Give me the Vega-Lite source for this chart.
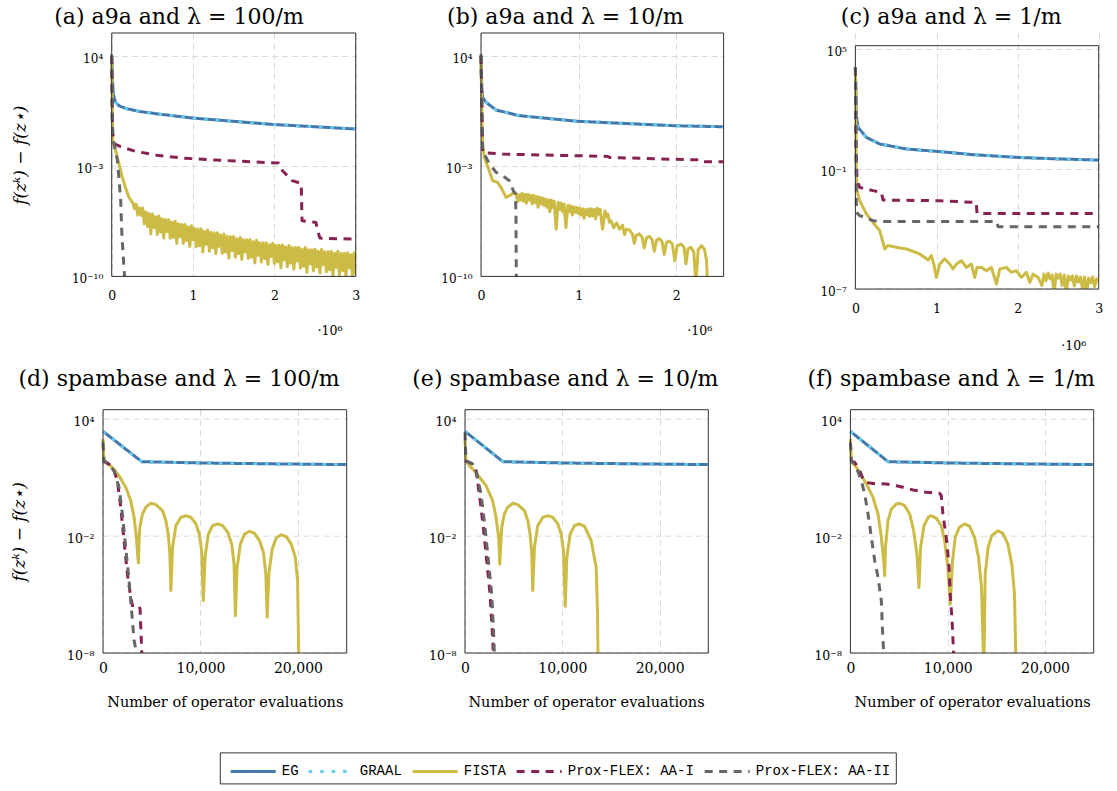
{
"$schema": "https://vega.github.io/schema/vega-lite/v6.json",
"background": "white",
"padding": {"left": 9, "top": 5, "right": 5, "bottom": 2},
"columns": 3,
"bounds": "flush",
"align": "each",
"spacing": {"row": 120.7, "column": 0},
"datasets": {
"a": [
{"s":"EG","x":0,"y":1e4},{"s":"EG","x":8000,"y":400},{"s":"EG","x":20000,"y":40},{"s":"EG","x":30000,"y":22.4},{"s":"EG","x":50000,"y":11.2},{"s":"EG","x":90000,"y":6.9},{"s":"EG","x":170000,"y":4.7},{"s":"EG","x":340000,"y":3.0},{"s":"EG","x":580000,"y":2.04},{"s":"EG","x":990000,"y":1.15},{"s":"EG","x":1480000,"y":0.72},{"s":"EG","x":2000000,"y":0.44},{"s":"EG","x":2500000,"y":0.32},{"s":"EG","x":3000000,"y":0.23},
{"s":"GRAAL","x":0,"y":1e4},{"s":"GRAAL","x":8000,"y":400},{"s":"GRAAL","x":20000,"y":40},{"s":"GRAAL","x":30000,"y":22.4},{"s":"GRAAL","x":50000,"y":11.2},{"s":"GRAAL","x":90000,"y":6.9},{"s":"GRAAL","x":170000,"y":4.7},{"s":"GRAAL","x":340000,"y":3.0},{"s":"GRAAL","x":580000,"y":2.04},{"s":"GRAAL","x":990000,"y":1.15},{"s":"GRAAL","x":1480000,"y":0.72},{"s":"GRAAL","x":2000000,"y":0.44},{"s":"GRAAL","x":2500000,"y":0.32},{"s":"GRAAL","x":3000000,"y":0.23},
{"s":"FISTA","x":0,"y":1e4},{"s":"FISTA","x":6000,"y":10},{"s":"FISTA","x":12000,"y":4.2e-2},{"s":"FISTA","x":49000,"y":9.5e-3},{"s":"FISTA","x":90000,"y":1.4e-3},{"s":"FISTA","x":131000,"y":1.95e-4},{"s":"FISTA","x":172000,"y":4e-5},{"s":"FISTA","x":213000,"y":1.05e-5},{"s":"FISTA","x":254000,"y":5e-6},
{"s":"FISTA","x":260000,"y":4.8e-6},{"s":"FISTA","x":280000,"y":2.0e-6},{"s":"FISTA","x":300000,"y":3.9e-6},{"s":"FISTA","x":320000,"y":7.8e-7},{"s":"FISTA","x":340000,"y":2.3e-6},{"s":"FISTA","x":360000,"y":7.6e-7},{"s":"FISTA","x":380000,"y":2.2e-6},{"s":"FISTA","x":400000,"y":2.2e-7},{"s":"FISTA","x":420000,"y":1.26e-6},{"s":"FISTA","x":440000,"y":1.48e-7},{"s":"FISTA","x":460000,"y":1.0e-6},{"s":"FISTA","x":480000,"y":5.0e-8},{"s":"FISTA","x":500000,"y":9.3e-7},{"s":"FISTA","x":520000,"y":1.26e-7},{"s":"FISTA","x":540000,"y":6.2e-7},{"s":"FISTA","x":560000,"y":4.6e-8},{"s":"FISTA","x":580000,"y":6.9e-7},{"s":"FISTA","x":600000,"y":6.6e-8},{"s":"FISTA","x":620000,"y":4.6e-7},{"s":"FISTA","x":640000,"y":2.75e-8},{"s":"FISTA","x":660000,"y":4.1e-7},{"s":"FISTA","x":680000,"y":7.1e-8},{"s":"FISTA","x":700000,"y":4.0e-7},{"s":"FISTA","x":720000,"y":2.6e-8},{"s":"FISTA","x":740000,"y":2.75e-7},{"s":"FISTA","x":760000,"y":3.0e-8},{"s":"FISTA","x":780000,"y":3.2e-7},{"s":"FISTA","x":800000,"y":1.26e-8},{"s":"FISTA","x":820000,"y":2.2e-7},{"s":"FISTA","x":840000,"y":3.4e-8},{"s":"FISTA","x":860000,"y":2.0e-7},{"s":"FISTA","x":880000,"y":1.23e-8},{"s":"FISTA","x":900000,"y":2.0e-7},{"s":"FISTA","x":920000,"y":1.86e-8},{"s":"FISTA","x":940000,"y":1.38e-7},{"s":"FISTA","x":960000,"y":7.8e-9},{"s":"FISTA","x":980000,"y":1.62e-7},{"s":"FISTA","x":1000000,"y":2.1e-8},{"s":"FISTA","x":1020000,"y":1.1e-7},{"s":"FISTA","x":1040000,"y":7.6e-9},{"s":"FISTA","x":1060000,"y":1.02e-7},{"s":"FISTA","x":1080000,"y":8.9e-9},{"s":"FISTA","x":1100000,"y":1.02e-7},{"s":"FISTA","x":1120000,"y":3.6e-9},{"s":"FISTA","x":1140000,"y":7.2e-8},{"s":"FISTA","x":1160000,"y":1.1e-8},{"s":"FISTA","x":1180000,"y":8.9e-8},{"s":"FISTA","x":1200000,"y":4.0e-9},{"s":"FISTA","x":1220000,"y":6.2e-8},{"s":"FISTA","x":1240000,"y":6.5e-9},{"s":"FISTA","x":1260000,"y":5.9e-8},{"s":"FISTA","x":1280000,"y":2.75e-9},{"s":"FISTA","x":1300000,"y":5.9e-8},{"s":"FISTA","x":1320000,"y":8.1e-9},{"s":"FISTA","x":1340000,"y":4.2e-8},{"s":"FISTA","x":1360000,"y":2.95e-9},{"s":"FISTA","x":1380000,"y":5.0e-8},{"s":"FISTA","x":1400000,"y":3.5e-9},{"s":"FISTA","x":1420000,"y":3.5e-8},{"s":"FISTA","x":1440000,"y":1.48e-9},{"s":"FISTA","x":1460000,"y":3.3e-8},{"s":"FISTA","x":1480000,"y":4.5e-9},{"s":"FISTA","x":1500000,"y":3.4e-8},{"s":"FISTA","x":1520000,"y":1.66e-9},{"s":"FISTA","x":1540000,"y":2.45e-8},{"s":"FISTA","x":1560000,"y":2.75e-9},{"s":"FISTA","x":1580000,"y":3.0e-8},{"s":"FISTA","x":1600000,"y":1.2e-9},{"s":"FISTA","x":1620000,"y":2.1e-8},{"s":"FISTA","x":1640000,"y":3.6e-9},{"s":"FISTA","x":1660000,"y":2.1e-8},{"s":"FISTA","x":1680000,"y":1.35e-9},{"s":"FISTA","x":1700000,"y":2.2e-8},{"s":"FISTA","x":1720000,"y":1.66e-9},{"s":"FISTA","x":1740000,"y":1.58e-8},{"s":"FISTA","x":1760000,"y":7.1e-10},{"s":"FISTA","x":1780000,"y":1.95e-8},{"s":"FISTA","x":1800000,"y":2.2e-9},{"s":"FISTA","x":1820000,"y":1.38e-8},{"s":"FISTA","x":1840000,"y":8.1e-10},{"s":"FISTA","x":1860000,"y":1.35e-8},{"s":"FISTA","x":1880000,"y":1.35e-9},{"s":"FISTA","x":1900000,"y":1.38e-8},{"s":"FISTA","x":1920000,"y":5.9e-10},{"s":"FISTA","x":1940000,"y":1.02e-8},{"s":"FISTA","x":1960000,"y":1.82e-9},{"s":"FISTA","x":1980000,"y":1.29e-8},{"s":"FISTA","x":2000000,"y":6.6e-10},{"s":"FISTA","x":2020000,"y":9.3e-9},{"s":"FISTA","x":2040000,"y":8.3e-10},{"s":"FISTA","x":2060000,"y":9.5e-9},{"s":"FISTA","x":2080000,"y":3.5e-10},{"s":"FISTA","x":2100000,"y":1.0e-8},{"s":"FISTA","x":2120000,"y":1.12e-9},{"s":"FISTA","x":2140000,"y":7.4e-9},{"s":"FISTA","x":2160000,"y":4.1e-10},{"s":"FISTA","x":2180000,"y":9.3e-9},{"s":"FISTA","x":2200000,"y":6.9e-10},{"s":"FISTA","x":2220000,"y":6.8e-9},{"s":"FISTA","x":2240000,"y":2.9e-10},{"s":"FISTA","x":2260000,"y":6.8e-9},{"s":"FISTA","x":2280000,"y":9.5e-10},{"s":"FISTA","x":2300000,"y":7.1e-9},{"s":"FISTA","x":2320000,"y":3.4e-10},{"s":"FISTA","x":2340000,"y":5.4e-9},{"s":"FISTA","x":2360000,"y":4.4e-10},{"s":"FISTA","x":2380000,"y":6.8e-9},{"s":"FISTA","x":2400000,"y":1.82e-10},{"s":"FISTA","x":2420000,"y":5.0e-9},{"s":"FISTA","x":2440000,"y":6.2e-10},{"s":"FISTA","x":2460000,"y":5.0e-9},{"s":"FISTA","x":2480000,"y":2.2e-10},{"s":"FISTA","x":2500000,"y":5.4e-9},{"s":"FISTA","x":2520000,"y":3.9e-10},{"s":"FISTA","x":2540000,"y":4.0e-9},{"s":"FISTA","x":2560000,"y":1.62e-10},{"s":"FISTA","x":2580000,"y":5.1e-9},{"s":"FISTA","x":2600000,"y":5.6e-10},{"s":"FISTA","x":2620000,"y":3.7e-9},{"s":"FISTA","x":2640000,"y":1.95e-10},{"s":"FISTA","x":2660000,"y":3.8e-9},{"s":"FISTA","x":2680000,"y":2.6e-10},{"s":"FISTA","x":2700000,"y":4.0e-9},{"s":"FISTA","x":2720000,"y":1.05e-10},{"s":"FISTA","x":2740000,"y":3.0e-9},{"s":"FISTA","x":2760000,"y":3.7e-10},{"s":"FISTA","x":2780000,"y":3.9e-9},{"s":"FISTA","x":2800000,"y":1.26e-10},{"s":"FISTA","x":2820000,"y":2.9e-9},{"s":"FISTA","x":2840000,"y":2.3e-10},{"s":"FISTA","x":2860000,"y":2.95e-9},{"s":"FISTA","x":2880000,"y":9.3e-11},{"s":"FISTA","x":2900000,"y":3.2e-9},{"s":"FISTA","x":2920000,"y":3.5e-10},{"s":"FISTA","x":2940000,"y":2.4e-9},{"s":"FISTA","x":2960000,"y":1.12e-10},{"s":"FISTA","x":2980000,"y":3.1e-9},{"s":"FISTA","x":3000000,"y":1.32e-10},
{"s":"AA-I","x":0,"y":1e4},{"s":"AA-I","x":10000,"y":0.32},{"s":"AA-I","x":16400,"y":8.7e-2},{"s":"AA-I","x":40000,"y":2.5e-2},{"s":"AA-I","x":110700,"y":1.74e-2},{"s":"AA-I","x":295000,"y":8.7e-3},{"s":"AA-I","x":582000,"y":4.7e-3},{"s":"AA-I","x":869000,"y":3.3e-3},{"s":"AA-I","x":1280000,"y":2.45e-3},{"s":"AA-I","x":1730000,"y":1.9e-3},{"s":"AA-I","x":2050000,"y":1.58e-3},{"s":"AA-I","x":2100000,"y":5.1e-4},{"s":"AA-I","x":2220000,"y":1.2e-4},{"s":"AA-I","x":2330000,"y":8.1e-5},{"s":"AA-I","x":2340000,"y":3.4e-7},{"s":"AA-I","x":2510000,"y":2.7e-7},{"s":"AA-I","x":2545000,"y":5e-8},{"s":"AA-I","x":2560000,"y":2.7e-8},{"s":"AA-I","x":3000000,"y":2.3e-8},
{"s":"AA-II","x":0,"y":1.26e4},{"s":"AA-II","x":6000,"y":1},{"s":"AA-II","x":12000,"y":6.3e-2},{"s":"AA-II","x":30000,"y":2.5e-2},{"s":"AA-II","x":50000,"y":7.9e-3},{"s":"AA-II","x":70000,"y":2.2e-3},{"s":"AA-II","x":90000,"y":1.6e-4},{"s":"AA-II","x":111000,"y":6.3e-6},{"s":"AA-II","x":125000,"y":5e-8},{"s":"AA-II","x":150000,"y":4e-10},{"s":"AA-II","x":165000,"y":3.2e-11}
],
"b": [
{"s":"EG","x":0,"y":1e4},{"s":"EG","x":8000,"y":100},{"s":"EG","x":17000,"y":23.4},{"s":"EG","x":51000,"y":11.5},{"s":"EG","x":154000,"y":3.7},{"s":"EG","x":392000,"y":1.62},{"s":"EG","x":990000,"y":0.71},{"s":"EG","x":1590000,"y":0.48},{"s":"EG","x":1990000,"y":0.37},{"s":"EG","x":2485000,"y":0.32},
{"s":"GRAAL","x":0,"y":1e4},{"s":"GRAAL","x":8000,"y":100},{"s":"GRAAL","x":17000,"y":23.4},{"s":"GRAAL","x":51000,"y":11.5},{"s":"GRAAL","x":154000,"y":3.7},{"s":"GRAAL","x":392000,"y":1.62},{"s":"GRAAL","x":990000,"y":0.71},{"s":"GRAAL","x":1590000,"y":0.48},{"s":"GRAAL","x":1990000,"y":0.37},{"s":"GRAAL","x":2485000,"y":0.32},
{"s":"FISTA","x":0,"y":1e4},{"s":"FISTA","x":10000,"y":1},{"s":"FISTA","x":17000,"y":2.6e-2},{"s":"FISTA","x":34000,"y":3.6e-3},{"s":"FISTA","x":85000,"y":5.1e-4},{"s":"FISTA","x":119000,"y":1.2e-4},{"s":"FISTA","x":171000,"y":9.3e-5},{"s":"FISTA","x":205000,"y":4.5e-5},{"s":"FISTA","x":256000,"y":1.05e-5},{"s":"FISTA","x":290000,"y":1.32e-5},{"s":"FISTA","x":341000,"y":2.1e-5},
{"s":"FISTA","x":360000,"y":2.0e-5},{"s":"FISTA","x":375000,"y":5.5e-6},{"s":"FISTA","x":390000,"y":1.5e-5},{"s":"FISTA","x":405000,"y":7.1e-6},{"s":"FISTA","x":420000,"y":1.9e-5},{"s":"FISTA","x":435000,"y":6.0e-6},{"s":"FISTA","x":450000,"y":1.6e-5},{"s":"FISTA","x":465000,"y":4.5e-6},{"s":"FISTA","x":480000,"y":1.66e-5},{"s":"FISTA","x":495000,"y":7.0e-6},{"s":"FISTA","x":510000,"y":1.4e-5},{"s":"FISTA","x":525000,"y":4.0e-6},{"s":"FISTA","x":540000,"y":1.41e-5},{"s":"FISTA","x":555000,"y":5.0e-6},{"s":"FISTA","x":570000,"y":1.2e-5},{"s":"FISTA","x":585000,"y":2.5e-6},{"s":"FISTA","x":600000,"y":1.05e-5},{"s":"FISTA","x":615000,"y":4.0e-6},{"s":"FISTA","x":630000,"y":9.5e-6},{"s":"FISTA","x":645000,"y":3.2e-6},{"s":"FISTA","x":660000,"y":8.3e-6},{"s":"FISTA","x":675000,"y":2.5e-6},{"s":"FISTA","x":690000,"y":7.5e-6},{"s":"FISTA","x":705000,"y":1.26e-6},{"s":"FISTA","x":720000,"y":7.1e-6},{"s":"FISTA","x":735000,"y":2.5e-6},{"s":"FISTA","x":750000,"y":6.0e-6},{"s":"FISTA","x":770000,"y":1e-7},{"s":"FISTA","x":790000,"y":5e-6},{"s":"FISTA","x":805000,"y":1.8e-6},{"s":"FISTA","x":820000,"y":4.5e-6},{"s":"FISTA","x":835000,"y":1.26e-6},{"s":"FISTA","x":850000,"y":4e-6},{"s":"FISTA","x":870000,"y":1.26e-7},{"s":"FISTA","x":890000,"y":3.3e-6},{"s":"FISTA","x":905000,"y":1.3e-6},{"s":"FISTA","x":920000,"y":3.0e-6},{"s":"FISTA","x":935000,"y":7.9e-7},{"s":"FISTA","x":950000,"y":2.6e-6},{"s":"FISTA","x":965000,"y":1.2e-6},{"s":"FISTA","x":980000,"y":2.4e-6},{"s":"FISTA","x":995000,"y":1e-6},{"s":"FISTA","x":1010000,"y":2.2e-6},{"s":"FISTA","x":1025000,"y":8e-7},{"s":"FISTA","x":1040000,"y":2.0e-6},{"s":"FISTA","x":1055000,"y":5e-7},{"s":"FISTA","x":1070000,"y":1.78e-6},{"s":"FISTA","x":1085000,"y":8e-7},{"s":"FISTA","x":1100000,"y":1.9e-6},{"s":"FISTA","x":1115000,"y":6.3e-7},{"s":"FISTA","x":1130000,"y":2e-6},{"s":"FISTA","x":1145000,"y":7e-7},{"s":"FISTA","x":1160000,"y":1.8e-6},{"s":"FISTA","x":1175000,"y":4.5e-7},{"s":"FISTA","x":1190000,"y":2.1e-6},{"s":"FISTA","x":1205000,"y":9e-7},{"s":"FISTA","x":1220000,"y":1.8e-6},{"s":"FISTA","x":1245000,"y":1e-7},{"s":"FISTA","x":1270000,"y":1.41e-6},{"s":"FISTA","x":1285000,"y":6e-7},{"s":"FISTA","x":1300000,"y":9e-7},{"s":"FISTA","x":1315000,"y":2.8e-7},{"s":"FISTA","x":1330000,"y":3.5e-7},{"s":"FISTA","x":1360000,"y":1.26e-7},{"s":"FISTA","x":1390000,"y":2.5e-7},{"s":"FISTA","x":1420000,"y":1e-7},{"s":"FISTA","x":1450000,"y":1.78e-7},
{"s":"FISTA","x":1470000,"y":4.5e-8},{"s":"FISTA","x":1490000,"y":1e-7},{"s":"FISTA","x":1519000,"y":8.9e-8},{"s":"FISTA","x":1550000,"y":5e-8},{"s":"FISTA","x":1570000,"y":1.26e-8},{"s":"FISTA","x":1590000,"y":4e-8},{"s":"FISTA","x":1621000,"y":5e-8},{"s":"FISTA","x":1650000,"y":3.2e-8},{"s":"FISTA","x":1672000,"y":6.3e-9},{"s":"FISTA","x":1695000,"y":2.8e-8},{"s":"FISTA","x":1724000,"y":3.5e-8},{"s":"FISTA","x":1752000,"y":2.2e-8},{"s":"FISTA","x":1775000,"y":4e-9},{"s":"FISTA","x":1798000,"y":2e-8},{"s":"FISTA","x":1826000,"y":2.5e-8},{"s":"FISTA","x":1855000,"y":1.58e-8},{"s":"FISTA","x":1877000,"y":2.5e-9},{"s":"FISTA","x":1900000,"y":1.41e-8},{"s":"FISTA","x":1928000,"y":1.78e-8},{"s":"FISTA","x":1960000,"y":1.12e-8},{"s":"FISTA","x":1985000,"y":1e-9},{"s":"FISTA","x":2010000,"y":8.9e-9},{"s":"FISTA","x":2048000,"y":1.12e-8},{"s":"FISTA","x":2080000,"y":7.1e-9},{"s":"FISTA","x":2099000,"y":6.3e-10},{"s":"FISTA","x":2120000,"y":5.6e-9},{"s":"FISTA","x":2150000,"y":7.1e-9},{"s":"FISTA","x":2180000,"y":3.5e-9},{"s":"FISTA","x":2201000,"y":3.2e-11},{"s":"FISTA","x":2225000,"y":5e-9},{"s":"FISTA","x":2260000,"y":8.9e-9},{"s":"FISTA","x":2290000,"y":5e-9},{"s":"FISTA","x":2310000,"y":1e-9},{"s":"FISTA","x":2321000,"y":3.2e-11},
{"s":"AA-I","x":0,"y":1e4},{"s":"AA-I","x":12000,"y":1},{"s":"AA-I","x":17000,"y":7.6e-3},{"s":"AA-I","x":35000,"y":7.1e-3},{"s":"AA-I","x":222000,"y":5.9e-3},{"s":"AA-I","x":904000,"y":4.7e-3},{"s":"AA-I","x":1300000,"y":4.2e-3},{"s":"AA-I","x":1314000,"y":3.6e-3},{"s":"AA-I","x":1928000,"y":2.8e-3},{"s":"AA-I","x":2260000,"y":2.5e-3},{"s":"AA-I","x":2280000,"y":1.9e-3},{"s":"AA-I","x":2485000,"y":1.9e-3},
{"s":"AA-II","x":0,"y":1.26e4},{"s":"AA-II","x":10000,"y":1},{"s":"AA-II","x":17000,"y":1e-2},{"s":"AA-II","x":35000,"y":5.9e-3},{"s":"AA-II","x":85000,"y":1.4e-3},{"s":"AA-II","x":154000,"y":4.1e-4},{"s":"AA-II","x":222000,"y":2.5e-4},{"s":"AA-II","x":290000,"y":1.2e-4},{"s":"AA-II","x":331000,"y":2.75e-5},{"s":"AA-II","x":352000,"y":1.7e-5},{"s":"AA-II","x":358000,"y":1e-6},{"s":"AA-II","x":360000,"y":1e-8},{"s":"AA-II","x":362000,"y":3.2e-11}
],
"c": [
{"s":"EG","x":0,"y":1.2e4},{"s":"EG","x":8000,"y":316},{"s":"EG","x":12000,"y":47},{"s":"EG","x":33000,"y":12},{"s":"EG","x":136000,"y":3.8},{"s":"EG","x":300000,"y":1.78},{"s":"EG","x":629000,"y":1.0},{"s":"EG","x":1040000,"y":0.74},{"s":"EG","x":1450000,"y":0.52},{"s":"EG","x":2000000,"y":0.38},{"s":"EG","x":2480000,"y":0.32},{"s":"EG","x":3000000,"y":0.28},
{"s":"GRAAL","x":0,"y":1.2e4},{"s":"GRAAL","x":8000,"y":316},{"s":"GRAAL","x":12000,"y":47},{"s":"GRAAL","x":33000,"y":12},{"s":"GRAAL","x":136000,"y":3.8},{"s":"GRAAL","x":300000,"y":1.78},{"s":"GRAAL","x":629000,"y":1.0},{"s":"GRAAL","x":1040000,"y":0.74},{"s":"GRAAL","x":1450000,"y":0.52},{"s":"GRAAL","x":2000000,"y":0.38},{"s":"GRAAL","x":2480000,"y":0.32},{"s":"GRAAL","x":3000000,"y":0.28},
{"s":"FISTA","x":0,"y":1.2e4},{"s":"FISTA","x":10000,"y":0.1},{"s":"FISTA","x":20500,"y":8.3e-3},{"s":"FISTA","x":53000,"y":2.6e-3},{"s":"FISTA","x":136000,"y":5.6e-4},{"s":"FISTA","x":218000,"y":2.1e-4},{"s":"FISTA","x":300000,"y":8.3e-5},{"s":"FISTA","x":362000,"y":1e-5},{"s":"FISTA","x":403000,"y":1.48e-5},{"s":"FISTA","x":464000,"y":1.32e-5},{"s":"FISTA","x":547000,"y":1.12e-5},{"s":"FISTA","x":629000,"y":1e-5},{"s":"FISTA","x":711000,"y":7.6e-6},{"s":"FISTA","x":793000,"y":5.6e-6},{"s":"FISTA","x":855000,"y":3.8e-6},{"s":"FISTA","x":896000,"y":2.8e-6},{"s":"FISTA","x":937000,"y":4.7e-6},{"s":"FISTA","x":966000,"y":1.78e-6},{"s":"FISTA","x":999000,"y":3.8e-7},
{"s":"FISTA","x":1040000,"y":1.78e-6},{"s":"FISTA","x":1101000,"y":3.2e-6},{"s":"FISTA","x":1163000,"y":1.78e-6},{"s":"FISTA","x":1204000,"y":1e-6},{"s":"FISTA","x":1245000,"y":1.78e-6},{"s":"FISTA","x":1307000,"y":2.6e-6},{"s":"FISTA","x":1369000,"y":1.2e-6},{"s":"FISTA","x":1430000,"y":1.78e-6},{"s":"FISTA","x":1471000,"y":3.8e-7},{"s":"FISTA","x":1500000,"y":1.2e-6},{"s":"FISTA","x":1554000,"y":1.2e-6},{"s":"FISTA","x":1615000,"y":8.3e-7},{"s":"FISTA","x":1677000,"y":1.2e-6},{"s":"FISTA","x":1739000,"y":1.78e-7},{"s":"FISTA","x":1780000,"y":1e-6},{"s":"FISTA","x":1862000,"y":1.2e-6},{"s":"FISTA","x":1923000,"y":6.8e-7},{"s":"FISTA","x":1985000,"y":8.3e-7},{"s":"FISTA","x":2047000,"y":3.8e-7},{"s":"FISTA","x":2108000,"y":6.8e-7},{"s":"FISTA","x":2150000,"y":2.1e-7},{"s":"FISTA","x":2191000,"y":5.6e-7},{"s":"FISTA","x":2252000,"y":3.8e-7},
{"s":"FISTA","x":2300000,"y":1.5e-7},{"s":"FISTA","x":2325000,"y":5.6e-7},{"s":"FISTA","x":2350000,"y":2.6e-7},{"s":"FISTA","x":2375000,"y":6.3e-7},{"s":"FISTA","x":2400000,"y":3.2e-7},{"s":"FISTA","x":2425000,"y":5e-7},{"s":"FISTA","x":2450000,"y":6e-8},{"s":"FISTA","x":2475000,"y":5.6e-7},{"s":"FISTA","x":2500000,"y":3.5e-7},{"s":"FISTA","x":2525000,"y":5.6e-7},{"s":"FISTA","x":2550000,"y":1.5e-7},{"s":"FISTA","x":2575000,"y":5e-7},{"s":"FISTA","x":2600000,"y":6e-8},{"s":"FISTA","x":2625000,"y":4.5e-7},{"s":"FISTA","x":2650000,"y":2.8e-7},{"s":"FISTA","x":2675000,"y":4.5e-7},{"s":"FISTA","x":2700000,"y":1.4e-7},{"s":"FISTA","x":2725000,"y":4.5e-7},{"s":"FISTA","x":2750000,"y":2.2e-7},{"s":"FISTA","x":2775000,"y":4e-7},{"s":"FISTA","x":2800000,"y":1.0e-7},{"s":"FISTA","x":2825000,"y":4e-7},{"s":"FISTA","x":2850000,"y":6e-8},{"s":"FISTA","x":2875000,"y":3.5e-7},{"s":"FISTA","x":2900000,"y":2e-7},{"s":"FISTA","x":2925000,"y":4e-7},{"s":"FISTA","x":2950000,"y":1.3e-7},{"s":"FISTA","x":2975000,"y":3.2e-7},{"s":"FISTA","x":3000000,"y":2.5e-7},
{"s":"AA-I","x":0,"y":1.2e4},{"s":"AA-I","x":8000,"y":1},{"s":"AA-I","x":20500,"y":2.6e-2},{"s":"AA-I","x":53000,"y":1.2e-2},{"s":"AA-I","x":218000,"y":8.3e-3},{"s":"AA-I","x":320000,"y":6.8e-3},{"s":"AA-I","x":341000,"y":2.8e-3},{"s":"AA-I","x":1040000,"y":2.6e-3},{"s":"AA-I","x":1490000,"y":2.1e-3},{"s":"AA-I","x":1500000,"y":6e-4},{"s":"AA-I","x":3000000,"y":6e-4},
{"s":"AA-II","x":0,"y":1.2e4},{"s":"AA-II","x":8000,"y":1},{"s":"AA-II","x":12000,"y":6.8e-4},{"s":"AA-II","x":53000,"y":4.7e-4},{"s":"AA-II","x":136000,"y":3.5e-4},{"s":"AA-II","x":218000,"y":2.6e-4},{"s":"AA-II","x":341000,"y":2.4e-4},{"s":"AA-II","x":1738000,"y":2.4e-4},{"s":"AA-II","x":1760000,"y":1.3e-4},{"s":"AA-II","x":3000000,"y":1.3e-4}
],
"d": [
{"s":"EG","x":0,"y":2350},{"s":"EG","x":3980,"y":65},{"s":"EG","x":10000,"y":56},{"s":"EG","x":18000,"y":50},{"s":"EG","x":25000,"y":46},
{"s":"GRAAL","x":0,"y":2350},{"s":"GRAAL","x":3980,"y":65},{"s":"GRAAL","x":10000,"y":56},{"s":"GRAAL","x":18000,"y":50},{"s":"GRAAL","x":25000,"y":46},
{"s":"FISTA","x":0,"y":930},{"s":"FISTA","x":100,"y":72},{"s":"FISTA","x":960,"y":33},{"s":"FISTA","x":1646,"y":12.3},{"s":"FISTA","x":2332,"y":3.16},{"s":"FISTA","x":2847,"y":0.65},{"s":"FISTA","x":3190,"y":9.1e-2},{"s":"FISTA","x":3430,"y":8.5e-3},{"s":"FISTA","x":3602,"y":5.5e-4},{"s":"FISTA","x":3636,"y":4.2e-4},
{"s":"FISTA","x":3700,"y":6.3e-3},{"s":"FISTA","x":3773,"y":2.75e-2},{"s":"FISTA","x":4047,"y":0.135},{"s":"FISTA","x":4390,"y":0.3},{"s":"FISTA","x":4905,"y":0.48},{"s":"FISTA","x":5419,"y":0.41},{"s":"FISTA","x":6105,"y":0.2},{"s":"FISTA","x":6448,"y":6.2e-2},{"s":"FISTA","x":6688,"y":1.26e-2},{"s":"FISTA","x":6860,"y":1.2e-3},{"s":"FISTA","x":6963,"y":1.6e-5},
{"s":"FISTA","x":7134,"y":2.6e-3},{"s":"FISTA","x":7477,"y":3.4e-2},{"s":"FISTA","x":7992,"y":9.1e-2},{"s":"FISTA","x":8506,"y":0.11},{"s":"FISTA","x":9021,"y":9.1e-2},{"s":"FISTA","x":9535,"y":4.2e-2},{"s":"FISTA","x":9878,"y":1.26e-2},{"s":"FISTA","x":10118,"y":1.8e-3},{"s":"FISTA","x":10290,"y":4.8e-6},
{"s":"FISTA","x":10462,"y":8.1e-4},{"s":"FISTA","x":10805,"y":1.26e-2},{"s":"FISTA","x":11250,"y":3.4e-2},{"s":"FISTA","x":11765,"y":4.2e-2},{"s":"FISTA","x":12279,"y":3.4e-2},{"s":"FISTA","x":12794,"y":1.55e-2},{"s":"FISTA","x":13206,"y":3.9e-3},{"s":"FISTA","x":13446,"y":3.6e-4},{"s":"FISTA","x":13583,"y":8.1e-7},
{"s":"FISTA","x":13754,"y":2.45e-4},{"s":"FISTA","x":14097,"y":3.9e-3},{"s":"FISTA","x":14509,"y":1.26e-2},{"s":"FISTA","x":15023,"y":1.74e-2},{"s":"FISTA","x":15538,"y":1.38e-2},{"s":"FISTA","x":16052,"y":5.8e-3},{"s":"FISTA","x":16464,"y":1.45e-3},{"s":"FISTA","x":16704,"y":1.12e-4},{"s":"FISTA","x":16841,"y":6.8e-7},
{"s":"FISTA","x":17013,"y":1.12e-4},{"s":"FISTA","x":17356,"y":2.1e-3},{"s":"FISTA","x":17767,"y":7.9e-3},{"s":"FISTA","x":18282,"y":1.17e-2},{"s":"FISTA","x":18796,"y":9.3e-3},{"s":"FISTA","x":19311,"y":3.9e-3},{"s":"FISTA","x":19723,"y":8.1e-4},{"s":"FISTA","x":19963,"y":5.1e-5},{"s":"FISTA","x":20100,"y":1e-9},
{"s":"AA-I","x":0,"y":72},{"s":"AA-I","x":617,"y":49},{"s":"AA-I","x":1132,"y":22},{"s":"AA-I","x":1475,"y":6.9},{"s":"AA-I","x":1818,"y":0.3},{"s":"AA-I","x":2161,"y":5.8e-3},{"s":"AA-I","x":2504,"y":1.12e-4},{"s":"AA-I","x":2847,"y":7.1e-6},{"s":"AA-I","x":3018,"y":2.7e-6},{"s":"AA-I","x":3704,"y":2.7e-6},{"s":"AA-I","x":3800,"y":1.8e-6},{"s":"AA-I","x":3876,"y":2.1e-7},{"s":"AA-I","x":3979,"y":1e-8},{"s":"AA-I","x":4000,"y":3.2e-9},
{"s":"AA-II","x":0,"y":630},{"s":"AA-II","x":100,"y":72},{"s":"AA-II","x":617,"y":49},{"s":"AA-II","x":1132,"y":22},{"s":"AA-II","x":1646,"y":3.2},{"s":"AA-II","x":1989,"y":0.135},{"s":"AA-II","x":2332,"y":2.6e-3},{"s":"AA-II","x":2675,"y":5.1e-5},{"s":"AA-II","x":3018,"y":4.6e-7},{"s":"AA-II","x":3190,"y":4.3e-8},{"s":"AA-II","x":3361,"y":1.6e-8},{"s":"AA-II","x":3450,"y":3.2e-9}
],
"e": [
{"s":"EG","x":0,"y":2350},{"s":"EG","x":3900,"y":65},{"s":"EG","x":10000,"y":56},{"s":"EG","x":18000,"y":50},{"s":"EG","x":25000,"y":46},
{"s":"GRAAL","x":0,"y":2350},{"s":"GRAAL","x":3900,"y":65},{"s":"GRAAL","x":10000,"y":56},{"s":"GRAAL","x":18000,"y":50},{"s":"GRAAL","x":25000,"y":46},
{"s":"FISTA","x":0,"y":930},{"s":"FISTA","x":100,"y":72},{"s":"FISTA","x":446,"y":41},{"s":"FISTA","x":1132,"y":18},{"s":"FISTA","x":2161,"y":3.8},{"s":"FISTA","x":2847,"y":0.65},{"s":"FISTA","x":3190,"y":9.1e-2},{"s":"FISTA","x":3464,"y":8.5e-3},{"s":"FISTA","x":3567,"y":3.6e-4},
{"s":"FISTA","x":3700,"y":6.3e-3},{"s":"FISTA","x":3773,"y":2.75e-2},{"s":"FISTA","x":4047,"y":0.135},{"s":"FISTA","x":4390,"y":0.3},{"s":"FISTA","x":4905,"y":0.48},{"s":"FISTA","x":5419,"y":0.41},{"s":"FISTA","x":6105,"y":0.2},{"s":"FISTA","x":6448,"y":6.2e-2},{"s":"FISTA","x":6688,"y":1.26e-2},{"s":"FISTA","x":6860,"y":1.2e-3},{"s":"FISTA","x":6963,"y":1.6e-5},
{"s":"FISTA","x":7134,"y":2.6e-3},{"s":"FISTA","x":7477,"y":3.4e-2},{"s":"FISTA","x":7992,"y":9.1e-2},{"s":"FISTA","x":8506,"y":0.11},{"s":"FISTA","x":9021,"y":9.1e-2},{"s":"FISTA","x":9535,"y":4.2e-2},{"s":"FISTA","x":9878,"y":1.26e-2},{"s":"FISTA","x":10118,"y":1.8e-3},{"s":"FISTA","x":10300,"y":2.5e-6},
{"s":"FISTA","x":10462,"y":8.1e-4},{"s":"FISTA","x":10805,"y":1.26e-2},{"s":"FISTA","x":11250,"y":3.4e-2},{"s":"FISTA","x":11720,"y":4.2e-2},{"s":"FISTA","x":12279,"y":3.2e-2},{"s":"FISTA","x":12965,"y":5.8e-3},{"s":"FISTA","x":13480,"y":2.45e-4},{"s":"FISTA","x":13620,"y":1e-6},{"s":"FISTA","x":13686,"y":1e-9},
{"s":"AA-I","x":0,"y":72},{"s":"AA-I","x":446,"y":60},{"s":"AA-I","x":790,"y":49},{"s":"AA-I","x":1132,"y":22},{"s":"AA-I","x":1475,"y":1.41},{"s":"AA-I","x":1887,"y":2.75e-2},{"s":"AA-I","x":2230,"y":5.5e-4},{"s":"AA-I","x":2573,"y":1.07e-5},{"s":"AA-I","x":2778,"y":2.1e-7},{"s":"AA-I","x":2916,"y":1e-8},{"s":"AA-I","x":2950,"y":3e-9},
{"s":"AA-II","x":0,"y":2100},{"s":"AA-II","x":103,"y":72},{"s":"AA-II","x":446,"y":60},{"s":"AA-II","x":790,"y":49},{"s":"AA-II","x":1132,"y":25},{"s":"AA-II","x":1646,"y":1.41},{"s":"AA-II","x":2058,"y":2.75e-2},{"s":"AA-II","x":2401,"y":5.5e-4},{"s":"AA-II","x":2744,"y":1.07e-5},{"s":"AA-II","x":2916,"y":2.1e-7},{"s":"AA-II","x":3018,"y":1e-8},{"s":"AA-II","x":3050,"y":3e-9}
],
"f": [
{"s":"EG","x":0,"y":2350},{"s":"EG","x":3870,"y":65},{"s":"EG","x":10000,"y":56},{"s":"EG","x":18000,"y":50},{"s":"EG","x":25000,"y":46},
{"s":"GRAAL","x":0,"y":2350},{"s":"GRAAL","x":3870,"y":65},{"s":"GRAAL","x":10000,"y":56},{"s":"GRAAL","x":18000,"y":50},{"s":"GRAAL","x":25000,"y":46},
{"s":"FISTA","x":0,"y":930},{"s":"FISTA","x":100,"y":72},{"s":"FISTA","x":616,"y":33},{"s":"FISTA","x":1642,"y":4.7},{"s":"FISTA","x":2326,"y":0.95},{"s":"FISTA","x":2839,"y":0.135},{"s":"FISTA","x":3181,"y":8.5e-3},{"s":"FISTA","x":3420,"y":5.5e-4},{"s":"FISTA","x":3523,"y":9.3e-5},
{"s":"FISTA","x":3600,"y":2.6e-3},{"s":"FISTA","x":3865,"y":6.2e-2},{"s":"FISTA","x":4207,"y":0.24},{"s":"FISTA","x":4720,"y":0.44},{"s":"FISTA","x":5062,"y":0.48},{"s":"FISTA","x":5575,"y":0.36},{"s":"FISTA","x":6088,"y":0.135},{"s":"FISTA","x":6498,"y":1.9e-2},{"s":"FISTA","x":6840,"y":1.2e-3},{"s":"FISTA","x":7045,"y":2.3e-5},
{"s":"FISTA","x":7216,"y":2.6e-3},{"s":"FISTA","x":7558,"y":3.4e-2},{"s":"FISTA","x":8037,"y":9.8e-2},{"s":"FISTA","x":8311,"y":0.11},{"s":"FISTA","x":8824,"y":8.3e-2},{"s":"FISTA","x":9337,"y":3.4e-2},{"s":"FISTA","x":9679,"y":5.8e-3},{"s":"FISTA","x":10020,"y":2.45e-4},{"s":"FISTA","x":10260,"y":3.2e-6},
{"s":"FISTA","x":10500,"y":5.5e-4},{"s":"FISTA","x":10773,"y":8.5e-3},{"s":"FISTA","x":11184,"y":2.75e-2},{"s":"FISTA","x":11731,"y":4.2e-2},{"s":"FISTA","x":12244,"y":3.2e-2},{"s":"FISTA","x":12757,"y":8.5e-3},{"s":"FISTA","x":13167,"y":8.1e-4},{"s":"FISTA","x":13475,"y":2.3e-5},{"s":"FISTA","x":13714,"y":1e-9},
{"s":"FISTA","x":13850,"y":1.12e-4},{"s":"FISTA","x":14150,"y":2.6e-3},{"s":"FISTA","x":14530,"y":1.05e-2},{"s":"FISTA","x":15151,"y":1.86e-2},{"s":"FISTA","x":15664,"y":1.38e-2},{"s":"FISTA","x":16177,"y":3.9e-3},{"s":"FISTA","x":16588,"y":3.6e-4},{"s":"FISTA","x":16861,"y":1.07e-5},{"s":"FISTA","x":17032,"y":1e-9},
{"s":"AA-I","x":0,"y":72},{"s":"AA-I","x":445,"y":60},{"s":"AA-I","x":958,"y":22},{"s":"AA-I","x":1300,"y":8.3},{"s":"AA-I","x":1573,"y":5.6},{"s":"AA-I","x":2326,"y":5.0},{"s":"AA-I","x":3694,"y":4.7},{"s":"AA-I","x":4720,"y":3.8},{"s":"AA-I","x":5404,"y":3.16},{"s":"AA-I","x":6430,"y":2.3},{"s":"AA-I","x":7798,"y":1.74},{"s":"AA-I","x":9166,"y":1.55},{"s":"AA-I","x":9337,"y":1.17},{"s":"AA-I","x":9508,"y":0.135},{"s":"AA-I","x":9850,"y":8.5e-3},{"s":"AA-I","x":10123,"y":3.6e-4},{"s":"AA-I","x":10260,"y":1.07e-5},{"s":"AA-I","x":10465,"y":3.1e-7},{"s":"AA-I","x":10602,"y":1e-8},{"s":"AA-I","x":10650,"y":3e-9},
{"s":"AA-II","x":0,"y":630},{"s":"AA-II","x":103,"y":72},{"s":"AA-II","x":616,"y":33},{"s":"AA-II","x":1129,"y":6.9},{"s":"AA-II","x":1471,"y":1.41},{"s":"AA-II","x":1813,"y":0.135},{"s":"AA-II","x":2155,"y":8.5e-3},{"s":"AA-II","x":2497,"y":5.5e-4},{"s":"AA-II","x":2839,"y":7.6e-5},{"s":"AA-II","x":3181,"y":4.8e-6},{"s":"AA-II","x":3283,"y":2.1e-7},{"s":"AA-II","x":3420,"y":1e-8},{"s":"AA-II","x":3450,"y":3e-9}
]
},
"concat": [
{
 "width": 266.7, "height": 243.4,
 "title": {"text": "(a) a9a and λ = 100/m", "dx": -43.35, "offset": 3.8},
 "layer": [
  {"data": {"name": "a"}, "mark": {"type": "line", "clip": true, "strokeWidth": 3, "strokeJoin": "round"},
   "encoding": {
    "x": {"field": "x", "type": "quantitative", "scale": {"domain": [0, 3000000], "range": [22.7, 266.7], "nice": false, "zero": false},
      "axis": {"values": [0, 1000000, 2000000, 3000000], "labelExpr": "format(datum.value/1000000, 'd')", "labelFontSize": 12.5, "labelPadding": 13, "title": "·10⁶", "titleFontSize": 12.5, "titleX": 240.5, "titleY": 57.6, "titleAlign": "center", "titleBaseline": "alphabetic"}},
    "y": {"field": "y", "type": "quantitative", "scale": {"type": "log", "domain": [1e-10, 288000], "range": [243.4, 0], "nice": false},
      "axis": {"values": [10000, 0.001, 1e-10], "labelExpr": "datum.value > 1 ? '10⁴' : datum.value > 1e-5 ? '10⁻³' : '10⁻¹⁰'", "offset": -22.7, "labelFontSize": 12, "labelPadding": 9, "labelOffset": 2.5, "title": "f(zᵏ) − f(z⋆)", "titleFontSize": 17, "titleFontStyle": "italic", "titleX": -91, "titleY": 121.7, "titleAlign": "center", "titleBaseline": "middle", "titleAngle": -90}},
    "color": {"field": "s", "type": "nominal", "scale": {"domain": ["EG","GRAAL","FISTA","AA-I","AA-II"], "range": ["#4477AA","#66CCEE","#CCBB44","#882255","#666666"]},
      "legend": {"orient": "none", "legendX": 130.8, "legendY": 719.4, "direction": "horizontal", "columns": 5, "title": null, "labelExpr": "indexof(datum.label,'AA')==0 ? 'Prox-FLEX: '+datum.label : datum.label"}},
    "strokeDash": {"field": "s", "type": "nominal", "scale": {"domain": ["EG","GRAAL","FISTA","AA-I","AA-II"], "range": [[1,0],[3.5,8],[1,0],[8,6.5],[8,6.5]]},
      "legend": {"orient": "none", "legendX": 130.8, "legendY": 719.4, "direction": "horizontal", "columns": 5, "title": null, "labelExpr": "indexof(datum.label,'AA')==0 ? 'Prox-FLEX: '+datum.label : datum.label"}}
   }},
  {"data": {"values": [{}]}, "mark": {"type": "rect", "fill": "transparent", "stroke": "#333333", "strokeWidth": 1},
   "encoding": {"x": {"datum": 0, "type": "quantitative"}, "x2": {"datum": 3000000}, "y": {"datum": 1e-10, "type": "quantitative"}, "y2": {"datum": 288000}}}
 ]
},
{
 "width": 367.6, "height": 243.4,
 "title": {"text": "(b) a9a and λ = 10/m", "dx": 25.5, "offset": 3.8},
 "layer": [
  {"data": {"name": "b"}, "mark": {"type": "line", "clip": true, "strokeWidth": 3, "strokeJoin": "round"},
   "encoding": {
    "x": {"field": "x", "type": "quantitative", "scale": {"domain": [0, 2485000], "range": [125, 367.6], "nice": false, "zero": false},
      "axis": {"values": [0, 1000000, 2000000], "labelExpr": "format(datum.value/1000000, 'd')", "labelFontSize": 12.5, "labelPadding": 13, "title": "·10⁶", "titleFontSize": 12.5, "titleX": 343.3, "titleY": 57.6, "titleAlign": "center", "titleBaseline": "alphabetic"}},
    "y": {"field": "y", "type": "quantitative", "scale": {"type": "log", "domain": [1e-10, 288000], "range": [243.4, 0], "nice": false},
      "axis": {"values": [10000, 0.001, 1e-10], "labelExpr": "datum.value > 1 ? '10⁴' : datum.value > 1e-5 ? '10⁻³' : '10⁻¹⁰'", "offset": -125, "labelFontSize": 12, "labelPadding": 9, "labelOffset": 2.5, "title": null}},
    "color": {"field": "s", "type": "nominal", "scale": {"domain": ["EG","GRAAL","FISTA","AA-I","AA-II"], "range": ["#4477AA","#66CCEE","#CCBB44","#882255","#666666"]},
      "legend": {"orient": "none", "legendX": 130.8, "legendY": 719.4, "direction": "horizontal", "columns": 5, "title": null, "labelExpr": "indexof(datum.label,'AA')==0 ? 'Prox-FLEX: '+datum.label : datum.label"}},
    "strokeDash": {"field": "s", "type": "nominal", "scale": {"domain": ["EG","GRAAL","FISTA","AA-I","AA-II"], "range": [[1,0],[3.5,8],[1,0],[8,6.5],[8,6.5]]},
      "legend": {"orient": "none", "legendX": 130.8, "legendY": 719.4, "direction": "horizontal", "columns": 5, "title": null, "labelExpr": "indexof(datum.label,'AA')==0 ? 'Prox-FLEX: '+datum.label : datum.label"}}
   }},
  {"data": {"values": [{}]}, "mark": {"type": "rect", "fill": "transparent", "stroke": "#333333", "strokeWidth": 1},
   "encoding": {"x": {"datum": 0, "type": "quantitative"}, "x2": {"datum": 2485000}, "y": {"datum": 1e-10, "type": "quantitative"}, "y2": {"datum": 288000}}}
 ]
},
{
 "width": 374.7, "height": 256,
 "title": {"text": "(c) a9a and λ = 1/m", "dx": 39.85, "offset": 4.5},
 "layer": [
  {"data": {"name": "c"}, "mark": {"type": "line", "clip": true, "strokeWidth": 3, "strokeJoin": "round"},
   "encoding": {
    "x": {"field": "x", "type": "quantitative", "scale": {"domain": [0, 3000000], "range": [131.4, 374.7], "nice": false, "zero": false},
      "axis": {"values": [0, 1000000, 2000000, 3000000], "labelExpr": "format(datum.value/1000000, 'd')", "labelFontSize": 12.5, "labelPadding": 13, "title": "·10⁶", "titleFontSize": 12.5, "titleX": 349.2, "titleY": 60, "titleAlign": "center", "titleBaseline": "alphabetic"}},
    "y": {"field": "y", "type": "quantitative", "scale": {"type": "log", "domain": [1e-7, 146000], "range": [256, 12.7], "nice": false},
      "axis": {"values": [100000, 0.1, 1e-7], "labelExpr": "datum.value > 1 ? '10⁵' : datum.value > 1e-3 ? '10⁻¹' : '10⁻⁷'", "offset": -131.4, "labelFontSize": 12, "labelPadding": 9, "labelOffset": 2.5, "title": null}},
    "color": {"field": "s", "type": "nominal", "scale": {"domain": ["EG","GRAAL","FISTA","AA-I","AA-II"], "range": ["#4477AA","#66CCEE","#CCBB44","#882255","#666666"]},
      "legend": {"orient": "none", "legendX": 130.8, "legendY": 719.4, "direction": "horizontal", "columns": 5, "title": null, "labelExpr": "indexof(datum.label,'AA')==0 ? 'Prox-FLEX: '+datum.label : datum.label"}},
    "strokeDash": {"field": "s", "type": "nominal", "scale": {"domain": ["EG","GRAAL","FISTA","AA-I","AA-II"], "range": [[1,0],[3.5,8],[1,0],[8,6.5],[8,6.5]]},
      "legend": {"orient": "none", "legendX": 130.8, "legendY": 719.4, "direction": "horizontal", "columns": 5, "title": null, "labelExpr": "indexof(datum.label,'AA')==0 ? 'Prox-FLEX: '+datum.label : datum.label"}}
   }},
  {"data": {"values": [{}]}, "mark": {"type": "rect", "fill": "transparent", "stroke": "#333333", "strokeWidth": 1},
   "encoding": {"x": {"datum": 0, "type": "quantitative"}, "x2": {"datum": 3000000}, "y": {"datum": 1e-7, "type": "quantitative"}, "y2": {"datum": 146000}}}
 ]
},
{
 "width": 257.7, "height": 243.3,
 "title": {"text": "(d) spambase and λ = 100/m", "dx": -38.85, "offset": 18.7},
 "layer": [
  {"data": {"name": "d"}, "mark": {"type": "line", "clip": true, "strokeWidth": 3, "strokeJoin": "round"},
   "encoding": {
    "x": {"field": "x", "type": "quantitative", "scale": {"domain": [0, 25000], "range": [14, 257.7], "nice": false, "zero": false},
      "axis": {"values": [0, 10000, 20000], "format": ",d", "labelFontSize": 14, "labelPadding": 8.4, "title": "Number of operator evaluations", "titleFontSize": 14.5, "titleX": 135.8, "titleY": 53.4, "titleAlign": "center", "titleBaseline": "alphabetic"}},
    "y": {"field": "y", "type": "quantitative", "scale": {"type": "log", "domain": [1e-8, 30200], "range": [243.3, 0], "nice": false},
      "axis": {"values": [10000, 0.01, 1e-8], "labelExpr": "datum.value > 1 ? '10⁴' : datum.value > 1e-5 ? '10⁻²' : '10⁻⁸'", "offset": -14, "labelFontSize": 12.5, "labelPadding": 9, "labelOffset": 2.5, "title": "f(zᵏ) − f(z⋆)", "titleFontSize": 17, "titleFontStyle": "italic", "titleX": -84, "titleY": 121.65, "titleAlign": "center", "titleBaseline": "middle", "titleAngle": -90}},
    "color": {"field": "s", "type": "nominal", "scale": {"domain": ["EG","GRAAL","FISTA","AA-I","AA-II"], "range": ["#4477AA","#66CCEE","#CCBB44","#882255","#666666"]},
      "legend": {"orient": "none", "legendX": 130.8, "legendY": 719.4, "direction": "horizontal", "columns": 5, "title": null, "labelExpr": "indexof(datum.label,'AA')==0 ? 'Prox-FLEX: '+datum.label : datum.label"}},
    "strokeDash": {"field": "s", "type": "nominal", "scale": {"domain": ["EG","GRAAL","FISTA","AA-I","AA-II"], "range": [[1,0],[3.5,8],[1,0],[8,6.5],[8,6.5]]},
      "legend": {"orient": "none", "legendX": 130.8, "legendY": 719.4, "direction": "horizontal", "columns": 5, "title": null, "labelExpr": "indexof(datum.label,'AA')==0 ? 'Prox-FLEX: '+datum.label : datum.label"}}
   }},
  {"data": {"values": [{}]}, "mark": {"type": "rect", "fill": "transparent", "stroke": "#333333", "strokeWidth": 1},
   "encoding": {"x": {"datum": 0, "type": "quantitative"}, "x2": {"datum": 25000}, "y": {"datum": 1e-8, "type": "quantitative"}, "y2": {"datum": 30200}}}
 ]
},
{
 "width": 352.3, "height": 243.3,
 "title": {"text": "(e) spambase and λ = 10/m", "dx": 33.15, "offset": 18.7},
 "layer": [
  {"data": {"name": "e"}, "mark": {"type": "line", "clip": true, "strokeWidth": 3, "strokeJoin": "round"},
   "encoding": {
    "x": {"field": "x", "type": "quantitative", "scale": {"domain": [0, 25000], "range": [109, 352.3], "nice": false, "zero": false},
      "axis": {"values": [0, 10000, 20000], "format": ",d", "labelFontSize": 14, "labelPadding": 8.4, "title": "Number of operator evaluations", "titleFontSize": 14.5, "titleX": 230, "titleY": 53.4, "titleAlign": "center", "titleBaseline": "alphabetic"}},
    "y": {"field": "y", "type": "quantitative", "scale": {"type": "log", "domain": [1e-8, 30200], "range": [243.3, 0], "nice": false},
      "axis": {"values": [10000, 0.01, 1e-8], "labelExpr": "datum.value > 1 ? '10⁴' : datum.value > 1e-5 ? '10⁻²' : '10⁻⁸'", "offset": -109, "labelFontSize": 12.5, "labelPadding": 9, "labelOffset": 2.5, "title": null}},
    "color": {"field": "s", "type": "nominal", "scale": {"domain": ["EG","GRAAL","FISTA","AA-I","AA-II"], "range": ["#4477AA","#66CCEE","#CCBB44","#882255","#666666"]},
      "legend": {"orient": "none", "legendX": 130.8, "legendY": 719.4, "direction": "horizontal", "columns": 5, "title": null, "labelExpr": "indexof(datum.label,'AA')==0 ? 'Prox-FLEX: '+datum.label : datum.label"}},
    "strokeDash": {"field": "s", "type": "nominal", "scale": {"domain": ["EG","GRAAL","FISTA","AA-I","AA-II"], "range": [[1,0],[3.5,8],[1,0],[8,6.5],[8,6.5]]},
      "legend": {"orient": "none", "legendX": 130.8, "legendY": 719.4, "direction": "horizontal", "columns": 5, "title": null, "labelExpr": "indexof(datum.label,'AA')==0 ? 'Prox-FLEX: '+datum.label : datum.label"}}
   }},
  {"data": {"values": [{}]}, "mark": {"type": "rect", "fill": "transparent", "stroke": "#333333", "strokeWidth": 1},
   "encoding": {"x": {"datum": 0, "type": "quantitative"}, "x2": {"datum": 25000}, "y": {"datum": 1e-8, "type": "quantitative"}, "y2": {"datum": 30200}}}
 ]
},
{
 "width": 369.7, "height": 243.3,
 "title": {"text": "(f) spambase and λ = 1/m", "dx": 42.35, "offset": 18.7},
 "layer": [
  {"data": {"name": "f"}, "mark": {"type": "line", "clip": true, "strokeWidth": 3, "strokeJoin": "round"},
   "encoding": {
    "x": {"field": "x", "type": "quantitative", "scale": {"domain": [0, 25000], "range": [126.4, 369.7], "nice": false, "zero": false},
      "axis": {"values": [0, 10000, 20000], "format": ",d", "labelFontSize": 14, "labelPadding": 8.4, "title": "Number of operator evaluations", "titleFontSize": 14.5, "titleX": 248.2, "titleY": 53.4, "titleAlign": "center", "titleBaseline": "alphabetic"}},
    "y": {"field": "y", "type": "quantitative", "scale": {"type": "log", "domain": [1e-8, 30200], "range": [243.3, 0], "nice": false},
      "axis": {"values": [10000, 0.01, 1e-8], "labelExpr": "datum.value > 1 ? '10⁴' : datum.value > 1e-5 ? '10⁻²' : '10⁻⁸'", "offset": -126.4, "labelFontSize": 12.5, "labelPadding": 9, "labelOffset": 2.5, "title": null}},
    "color": {"field": "s", "type": "nominal", "scale": {"domain": ["EG","GRAAL","FISTA","AA-I","AA-II"], "range": ["#4477AA","#66CCEE","#CCBB44","#882255","#666666"]},
      "legend": {"orient": "none", "legendX": 130.8, "legendY": 719.4, "direction": "horizontal", "columns": 5, "title": null, "labelExpr": "indexof(datum.label,'AA')==0 ? 'Prox-FLEX: '+datum.label : datum.label"}},
    "strokeDash": {"field": "s", "type": "nominal", "scale": {"domain": ["EG","GRAAL","FISTA","AA-I","AA-II"], "range": [[1,0],[3.5,8],[1,0],[8,6.5],[8,6.5]]},
      "legend": {"orient": "none", "legendX": 130.8, "legendY": 719.4, "direction": "horizontal", "columns": 5, "title": null, "labelExpr": "indexof(datum.label,'AA')==0 ? 'Prox-FLEX: '+datum.label : datum.label"}}
   }},
  {"data": {"values": [{}]}, "mark": {"type": "rect", "fill": "transparent", "stroke": "#333333", "strokeWidth": 1},
   "encoding": {"x": {"datum": 0, "type": "quantitative"}, "x2": {"datum": 25000}, "y": {"datum": 1e-8, "type": "quantitative"}, "y2": {"datum": 30200}}}
 ]
}
],
"resolve": {"scale": {"x": "independent", "y": "independent", "color": "shared", "strokeDash": "shared"}, "axis": {"x": "independent", "y": "independent"}, "legend": {"color": "shared", "strokeDash": "shared"}},
"config": {
 "view": {"stroke": null},
 "font": "DejaVu Serif",
 "axis": {"domain": false, "ticks": false, "grid": true, "gridColor": "#d0d0d0", "gridDash": [6, 4], "gridWidth": 0.8, "labelFont": "DejaVu Serif", "labelColor": "#000000", "labelFlush": false, "labelOverlap": false, "titleFont": "DejaVu Serif", "titleColor": "#000000", "titleFontWeight": "normal"},
 "title": {"font": "DejaVu Serif", "fontSize": 22, "fontWeight": "normal", "color": "#000000", "anchor": "middle", "frame": "group", "baseline": "alphabetic"},
 "legend": {"symbolType": "M-0.65,0H2.95", "symbolSize": 625, "symbolStrokeWidth": 3, "symbolFillColor": "transparent", "labelFont": "Liberation Mono", "labelFontSize": 14, "labelColor": "#000000", "labelOffset": 29, "columnPadding": 3, "padding": 5, "strokeColor": "#333333", "fillColor": "#ffffff", "labelLimit": 300}
}
}
